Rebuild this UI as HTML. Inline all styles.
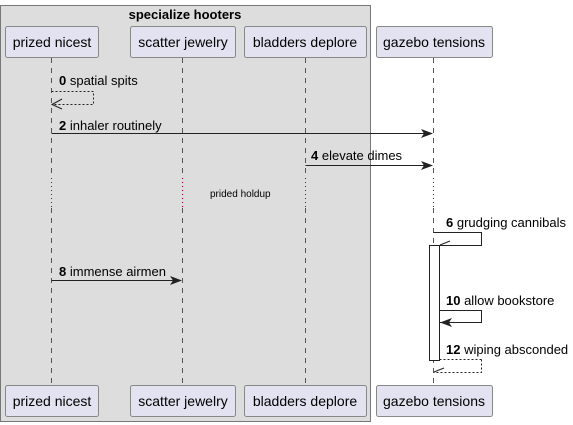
<!DOCTYPE html>
<html><head><meta charset="utf-8"><style>
html,body{margin:0;padding:0;background:#fff;}
svg{display:block;font-family:"Liberation Sans",sans-serif;}
</style></head><body>
<svg width="573" height="425" viewBox="0 0 573 425" xmlns="http://www.w3.org/2000/svg">
<rect x="0.5" y="5.5" width="370" height="416" fill="#DDDDDD" stroke="#777" stroke-width="1"/>
<text x="185" y="19" font-size="13" font-weight="bold" text-anchor="middle" fill="#000">specialize hooters</text>
<g stroke="#555" stroke-width="1" stroke-dasharray="5,5">
<line x1="51.5" y1="58" x2="51.5" y2="178"/><line x1="51.5" y1="208" x2="51.5" y2="384"/>
<line x1="182.5" y1="58" x2="182.5" y2="178"/><line x1="182.5" y1="208" x2="182.5" y2="384"/>
<line x1="305.5" y1="58" x2="305.5" y2="178"/><line x1="305.5" y1="208" x2="305.5" y2="384"/>
<line x1="433.5" y1="58" x2="433.5" y2="178"/><line x1="433.5" y1="208" x2="433.5" y2="384"/>
</g>
<g stroke="#A80036" stroke-width="1" stroke-dasharray="1,3">
<line x1="51.5" y1="178" x2="51.5" y2="208"/><line x1="182.5" y1="178" x2="182.5" y2="208"/>
<line x1="305.5" y1="178" x2="305.5" y2="208"/><line x1="433.5" y1="178" x2="433.5" y2="208"/>
</g>
<g fill="#E2E2F0" stroke="#888" stroke-width="1">
<rect x="5.5" y="26.5" width="93" height="31" rx="2"/>
<rect x="130.5" y="26.5" width="105" height="31" rx="2"/>
<rect x="244.5" y="26.5" width="122" height="31" rx="2"/>
<rect x="376.5" y="26.5" width="116" height="31" rx="2"/>
<rect x="5.5" y="385.5" width="93" height="31" rx="2"/>
<rect x="130.5" y="385.5" width="105" height="31" rx="2"/>
<rect x="244.5" y="385.5" width="122" height="31" rx="2"/>
<rect x="376.5" y="385.5" width="116" height="31" rx="2"/>
</g>
<g font-size="14" fill="#000" text-anchor="middle">
<text x="52" y="47">prized nicest</text><text x="183" y="47">scatter jewelry</text>
<text x="305" y="47">bladders deplore</text><text x="434" y="47">gazebo tensions</text>
<text x="52" y="406">prized nicest</text><text x="183" y="406">scatter jewelry</text>
<text x="305" y="406">bladders deplore</text><text x="434" y="406">gazebo tensions</text>
</g>
<g font-size="13" fill="#000">
<text x="59" y="85"><tspan font-weight="bold">0</tspan> spatial spits</text>
<text x="59" y="130"><tspan font-weight="bold">2</tspan> inhaler routinely</text>
<text x="311" y="160"><tspan font-weight="bold">4</tspan> elevate dimes</text>
<text x="446" y="227"><tspan font-weight="bold">6</tspan> grudging cannibals</text>
<text x="59" y="276"><tspan font-weight="bold">8</tspan> immense airmen</text>
<text x="446" y="305"><tspan font-weight="bold">10</tspan> allow bookstore</text>
<text x="446" y="354"><tspan font-weight="bold">12</tspan> wiping absconded</text>
<text x="210" y="197" font-size="10">prided holdup</text>
</g>
<g fill="none" stroke="#222" stroke-width="1">
<polyline points="51.5,91.5 93.5,91.5 93.5,104.5 52,104.5" stroke-dasharray="2,2"/>
<polyline points="62,99 52,104.5 62,109"/>
<line x1="51.5" y1="133.5" x2="432" y2="133.5"/>
<line x1="305.5" y1="165.5" x2="432" y2="165.5"/>
<line x1="51.5" y1="280.5" x2="181" y2="280.5"/>
<polyline points="433.5,232.5 481.5,232.5 481.5,245.5 440,245.5"/>
<line x1="440" y1="245" x2="450" y2="241"/>
<polyline points="439.5,310.5 481.5,310.5 481.5,322.5 440,322.5"/>
<polyline points="481.5,359.5 481.5,372.5 434,372.5" stroke-dasharray="2,2"/>
<line x1="439.5" y1="359.5" x2="481.5" y2="359.5" stroke-dasharray="2,2"/>
<line x1="434" y1="372" x2="444" y2="368"/>
</g>
<rect x="429.5" y="245.5" width="10" height="115" fill="#fff" stroke="#222"/>
<g fill="#222">
<polygon points="433,133.5 421,129 424,133.5 421,138"/>
<polygon points="433,165.5 421,161 424,165.5 421,170"/>
<polygon points="182,280.5 170,276 173,280.5 170,285"/>
<polygon points="440,322.5 452,318 449,322.5 452,327"/>
</g>
</svg>
</body></html>
